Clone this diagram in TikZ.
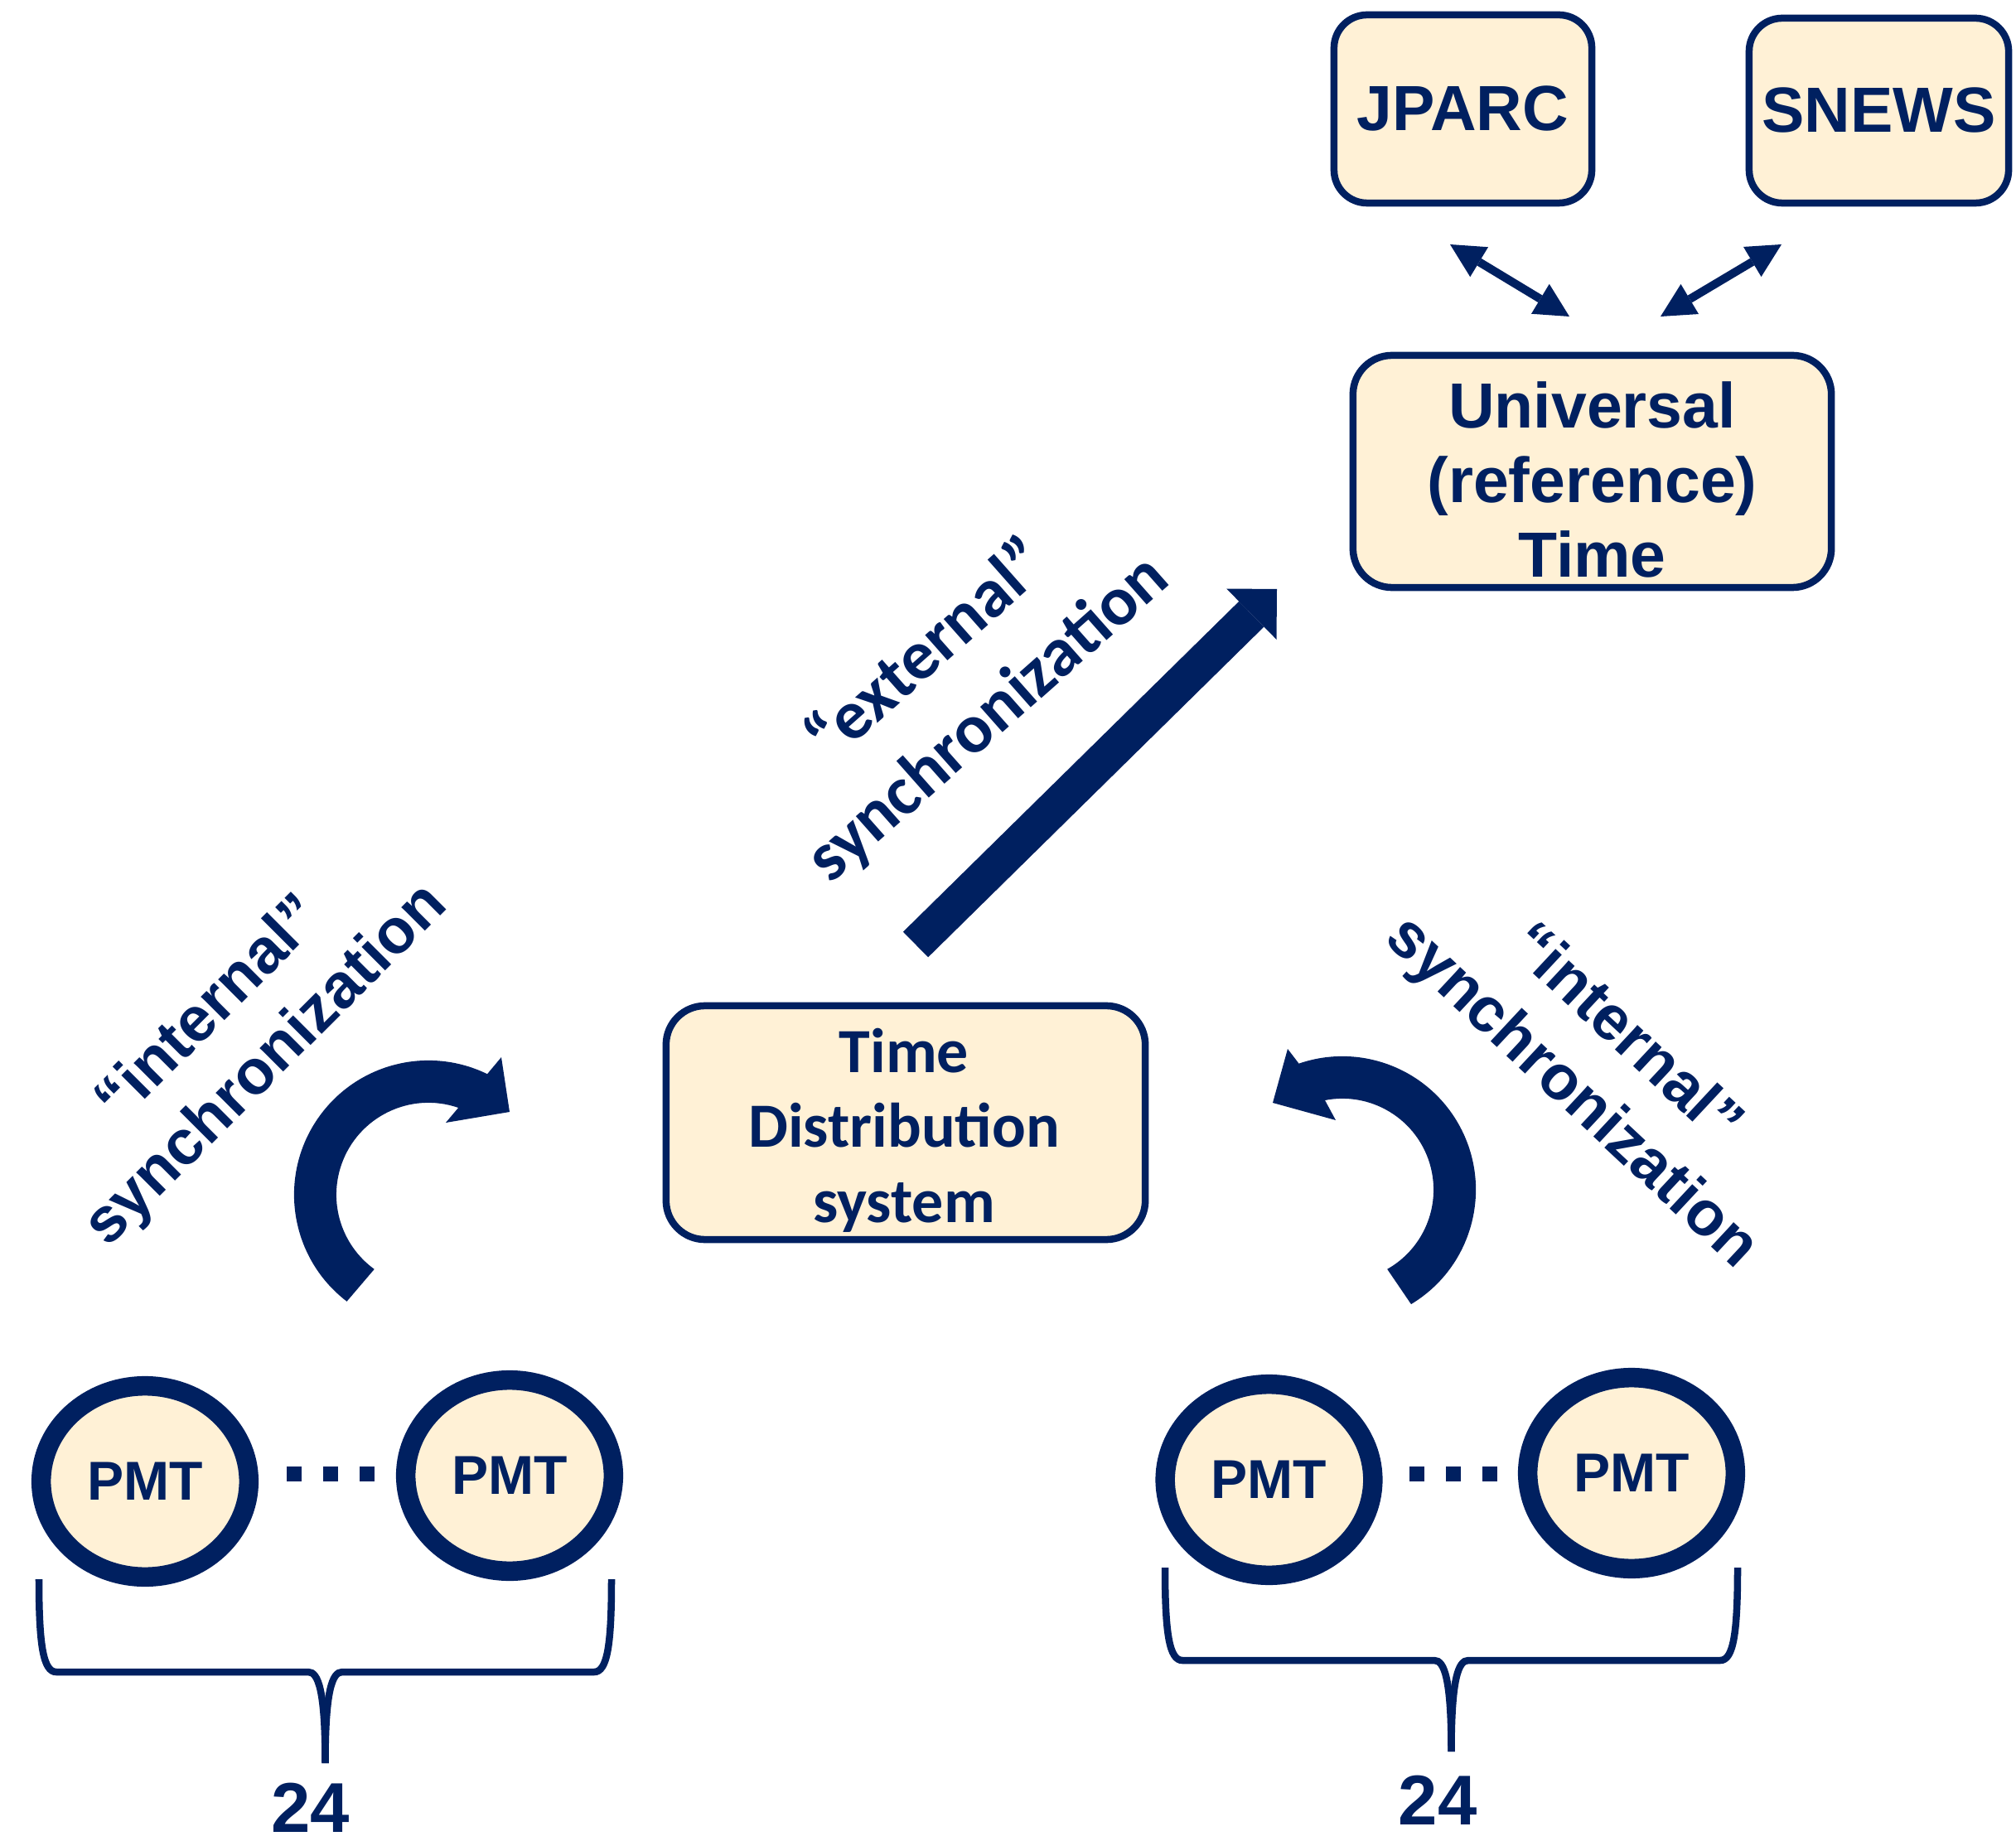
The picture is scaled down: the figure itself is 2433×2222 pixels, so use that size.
\documentclass[tikz,border=0pt]{standalone}
\usepackage{fontspec}
\setmainfont{Liberation Sans}
\newfontfamily\calfont{Carlito}
\usetikzlibrary{arrows.meta,shapes.geometric}
\definecolor{navy}{RGB}{0,32,96}
\definecolor{cream}{RGB}{255,241,214}

\tikzset{
  boxshape/.style={draw=navy, fill=cream, line width=0.085cm, inner sep=0pt},
  arialtxt/.style={text=navy, font=\bfseries\fontsize{21.9pt}{25.5pt}\selectfont, align=center, inner sep=0pt},
  caltxt/.style={text=navy, font=\calfont\bfseries\fontsize{21.6pt}{25.75pt}\selectfont, align=center, inner sep=0pt},
  synclbl/.style={text=navy, font=\bfseries\fontsize{21.6pt}{27pt}\selectfont, align=center, inner sep=0pt},
  extlblstyle/.style={text=navy, font=\calfont\bfseries\fontsize{23.9pt}{31pt}\selectfont, align=center, inner sep=0pt},
  pmt/.style={ellipse, draw=navy, fill=cream, line width=0.235cm, minimum width=2.505cm,
    minimum height=2.305cm, inner sep=0pt, text=navy, font=\bfseries\fontsize{18.8pt}{22pt}\selectfont},
  count/.style={text=navy, font=\bfseries\fontsize{24.2pt}{28pt}\selectfont, inner sep=0pt},
  linkarrow/.style={draw=navy, line width=0.10cm,
    {Triangle[length=0.41cm,width=0.42cm,line width=0pt]}-{Triangle[length=0.41cm,width=0.42cm,line width=0pt]}},
  extarrow/.style={draw=navy, line width=0.43cm, -{Triangle[length=0.43cm,width=0.86cm,line width=0pt]}},
  brace/.style={draw=navy, line width=0.085cm},
  countbrace/.pic={
    \draw[brace] (-345.5,222) .. controls (-345.5,143) and (-340.5,110) .. (-324.5,110)
      -- (-20.5,110) .. controls (-8.5,110) and (0,88) .. (0,0);
    \draw[brace] (345.5,222) .. controls (345.5,143) and (340.5,110) .. (324.5,110)
      -- (20.5,110) .. controls (8.5,110) and (0,88) .. (0,0);
  }
}

\begin{document}
\begin{tikzpicture}[x=0.01cm,y=0.01cm]
\fill[white] (0,0) rectangle (2433,-2222);
\useasboundingbox (0,0) rectangle (2433,-2222);

% time sources
\node[boxshape, rounded corners=0.40cm, minimum width=3.11cm, minimum height=2.27cm, arialtxt]
  (jparc) at (1765.5,-131.5) {JPARC};
\node[boxshape, rounded corners=0.40cm, minimum width=3.13cm, minimum height=2.23cm, arialtxt]
  (snews) at (2267.5,-133.5) {SNEWS};

% universal reference time
\node[boxshape, rounded corners=0.47cm, minimum width=5.77cm, minimum height=2.80cm]
  (univ) at (1921.5,-569) {};
\node[arialtxt] (univtext) at (1921.5,-579) {Universal\\(reference)\\Time};

% time distribution system
\node[boxshape, rounded corners=0.47cm, minimum width=5.78cm, minimum height=2.82cm]
  (tds) at (1093,-1355) {};
\node[caltxt] (tdstext) at (1091,-1364) {Time\\Distribution\\system};

% links to the external sources
\coordinate (jpEnd) at (1750,-295);
\coordinate (jpUniv) at (1894,-382);
\draw[linkarrow] (jpEnd) -- (jpUniv);
\coordinate (snEnd) at (2150,-295);
\coordinate (snUniv) at (2004,-382);
\draw[linkarrow] (snEnd) -- (snUniv);

% external synchronization
\coordinate (extTail) at (1105,-1140);
\coordinate (extTip) at (1541,-711);
\draw[extarrow] (extTail) -- (extTip);
\node[extlblstyle, rotate=41.5] (extlbl) at (1156.5,-826.5) {“external”\\synchronization};

% internal synchronization, left
\node[synclbl, rotate=45] (intlblL) at (288.5,-1253.5) {“internal”\\synchronization};
\coordinate (loopL) at (517,-1442);
\fill[navy] ([shift={(232.6:1.62cm)}]loopL) arc[start angle=232.6, end angle=64, radius=1.62cm]
  -- (605,-1276) -- (615,-1342) -- (538,-1355)
  -- ([shift={(71:1.11cm)}]loopL) arc[start angle=71, end angle=234, radius=1.11cm] -- cycle;

% internal synchronization, right
\node[synclbl, rotate=-43] (intlblR) at (1928,-1285) {“internal”\\synchronization};
\coordinate (loopR) at (1620,-1436);
\fill[navy] ([shift={(-59:1.61cm)}]loopR) arc[start angle=-59, end angle=109, radius=1.61cm]
  -- (1554,-1266) -- (1536,-1331) -- (1612,-1352)
  -- ([shift={(101:1.10cm)}]loopR) arc[start angle=101, end angle=-60.5, radius=1.10cm] -- cycle;

% photomultiplier groups
\node[pmt] (pmtA) at (175,-1788) {PMT};
\node[pmt] (pmtB) at (615,-1781) {PMT};
\node[pmt] (pmtC) at (1531.5,-1786) {PMT};
\node[pmt] (pmtD) at (1969,-1778) {PMT};

\foreach \dx in {355,399,443,1709.5,1753.5,1797.5}
  \fill[navy] (\dx-9,-1770) rectangle (\dx+9,-1788);

\pic at (392.5,-2128) {countbrace};
\pic at (1751.5,-2114) {countbrace};

\node[count] (countL) at (375,-2182) {24};
\node[count] (countR) at (1735,-2173) {24};
\end{tikzpicture}
\end{document}
